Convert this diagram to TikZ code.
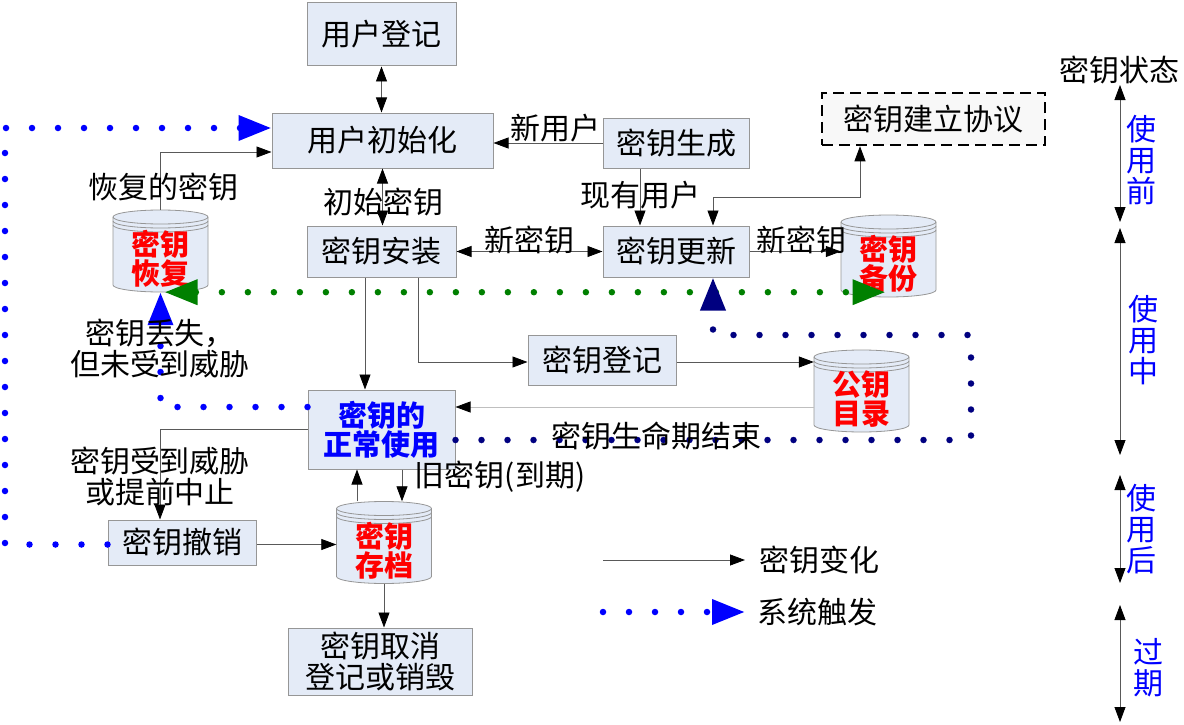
\documentclass[tikz,border=0pt]{standalone}
\usepackage{fontspec}
\setmainfont{Noto Sans CJK SC}
\usetikzlibrary{arrows.meta,calc}

\definecolor{boxfill}{RGB}{228,235,247}
\definecolor{boxline}{RGB}{150,150,150}
\definecolor{protofill}{RGB}{248,248,248}
\definecolor{trigblue}{RGB}{0,0,255}
\definecolor{trignavy}{RGB}{0,0,128}
\definecolor{triggreen}{RGB}{0,128,0}

\tikzset{
  every node/.style={font=\fontsize{30}{31}\selectfont, inner sep=0.75pt},
  box/.style={draw=boxline, fill=boxfill, line width=1pt},
  dbbody/.style={minimum width=95pt, minimum height=82pt},
  dbtext/.style={text=red, font=\fontsize{29}{29}\selectfont\bfseries, align=center},
  conn/.style={draw=black!65, line width=0.8pt, -{Triangle[length=15pt,width=11pt,color=black]}},
  conn2/.style={draw=black!65, line width=0.8pt, {Triangle[length=15pt,width=11pt,color=black]}-{Triangle[length=15pt,width=11pt,color=black]}},
  trig/.style={line width=6.5pt, line cap=round, dash pattern=on 0pt off 26pt, -{Triangle[length=33pt,width=24pt]}},
  trig2/.style={line width=6.5pt, line cap=round, dash pattern=on 0pt off 26pt, {Triangle[length=33pt,width=24pt]}-{Triangle[length=33pt,width=24pt]}},
  stage/.style={text=trigblue, align=center},
}

% cylinder: name, x, y, text
\newcommand{\keydb}[4]{%
  \draw[boxline, fill=boxfill, line width=0.8pt] (#2-47.5,#3-34) -- (#2-47.5,#3+34)
    arc[start angle=180,end angle=0,x radius=47.5pt,y radius=7pt] -- (#2+47.5,#3-34)
    arc[start angle=0,end angle=-180,x radius=47.5pt,y radius=7pt] -- cycle;
  \foreach \dy in {0,4,8}
    \draw[boxline, line width=0.8pt] (#2-47.5,#3-34+\dy) arc[start angle=180,end angle=0,x radius=47.5pt,y radius=7pt];
  \node[dbbody] (#1) at (#2,#3) {};
  \node[dbtext] (#1-t) at (#2,#3+8) {#4};
}

\begin{document}
\begin{tikzpicture}[x=1pt,y=1pt,yscale=-1]
\useasboundingbox (0,0) rectangle (1184,725);

% Boxes
\node[box, minimum width=149pt, minimum height=63pt] (reg) at (381.5,34.5) {用户登记};
\node[box, minimum width=221pt, minimum height=55pt] (init) at (382.5,140.5) {用户初始化};
\node[box, minimum width=146pt, minimum height=50pt] (gen) at (676,143) {密钥生成};
\node[draw=black, dash pattern=on 11pt off 6pt, line width=2.5pt, fill=protofill, minimum width=223pt, minimum height=52pt] (proto) at (933.5,119) {密钥建立协议};
\node[box, minimum width=149pt, minimum height=51pt] (inst) at (381.5,251.5) {密钥安装};
\node[box, minimum width=146pt, minimum height=51pt] (upd) at (676,251.5) {密钥更新};
\node[box, minimum width=148pt, minimum height=50pt] (kreg) at (602,360) {密钥登记};
\node[box, minimum width=147pt, minimum height=79pt, text=trigblue, font=\fontsize{29}{29}\selectfont\bfseries, align=center] (use) at (381.5,429.5) {密钥的\\正常使用};
\node[box, minimum width=148pt, minimum height=45pt] (rev) at (182,542.5) {密钥撤销};
\node[box, minimum width=184pt, minimum height=67pt, align=center] (del) at (380,661.5) {密钥取消\\登记或销毁};

% Cylinders
\keydb{rec}{160.5}{251}{密钥\\恢复}
\keydb{bak}{888.5}{256}{密钥\\备份}
\keydb{dir}{861.5}{391}{公钥\\目录}
\keydb{arch}{384}{542.5}{密钥\\存档}

% Key changes
\draw[conn2] (reg.south) -- (reg.south |- init.north);
\draw[conn] (gen.west) -- (gen.west -| init.east);
\draw[conn] (rec.north) |- ($(init.west)+(0,11.5)$);
\draw[conn2] (init.south) -- (init.south |- inst.north);
\draw[conn2] (inst.east) -- (upd.west);
\draw[conn] ([xshift=-36pt]gen.south) -- ([xshift=-36pt]upd.north);
\draw[conn2] ([xshift=37pt]upd.north) -- ++(0,-28) -| ([xshift=-73.5pt]proto.south);
\draw[conn] (upd.east) -- (upd.east -| bak.west);
\draw[conn] ([xshift=-16.5pt]inst.south) -- ([xshift=-16.5pt]inst.south |- use.north);
\draw[conn] ([xshift=36.5pt]inst.south) |- ($(kreg.west)+(0,2)$);
\draw[conn] ($(kreg.east)+(0,2)$) -- ($(kreg.east -| dir.west)+(0,2)$);
\draw[conn, draw=black!25] ($(dir.west)+(0,16)$) -- ($(dir.west -| use.east)+(0,16)$);
\draw[conn] (use.west) -| ([xshift=-22pt]rev.north);
\draw[conn] ($(rev.east)+(0,2)$) -- ($(rev.east -| arch.west)+(0,2)$);
\draw[conn] ([xshift=-27pt]arch.north) -- ([xshift=-27pt]arch.north |- use.south);
\draw[conn] ([xshift=20.5pt]use.south) -- ([xshift=20.5pt]use.south |- arch.north);
\draw[conn] (arch.south) -- (arch.south |- del.north);

% System triggers
\draw[trig2, triggreen] ([xshift=4pt]rec.south) -- ([xshift=-3pt]rec.south -| bak.south);
\draw[trig, trignavy] ($(use.east)+(0,10.5)$) -| (971,335) -| ([xshift=37pt]upd.south);
\draw[trig, trigblue] ($(use.west)+(0,-22.5)$) -| (rec.south);
\draw[trig, trigblue] ($(rev.west)+(0,2)$) -| (5,128) -- ($(init.west)+(0,-12.5)$);

% Text Node
\node (newuser) at (555,128) {新用户};
\node (recovered) at (163,187) {恢复的密钥};
\node (initkey) at (383,202) {初始密钥};
\node (olduser) at (640,195) {现有用户};
\node (newkey1) at (529,240) {新密钥};
\node (newkey2) at (801,240) {新密钥};
\node[align=center] (lost) at (160,348) {密钥丢失，\\但未受到威胁};
\node (endlife) at (656,436) {密钥生命期结束};
\node[align=center] (threat) at (160,476) {密钥受到威胁\\或提前中止};
\node (expired) at (500,477) {旧密钥(到期)};

% Legend
\coordinate (lgA) at (603,560);
\coordinate (lgB) at (603,612);
\node[anchor=west, inner sep=14pt] (lgchange) at (745,560) {密钥变化};
\node[anchor=west, inner sep=12pt] (lgtrig) at (745,612) {系统触发};
\draw[conn] (lgA) -- (lgchange.west);
\draw[trig, trigblue] (lgB) -- (lgtrig.west);

% Key states
\node (state) at (1119,70) {密钥状态};
\coordinate (s1a) at (1120,85);  \coordinate (s1b) at (1120,222);
\coordinate (s2a) at (1120,228); \coordinate (s2b) at (1120,455);
\coordinate (s3a) at (1120,475); \coordinate (s3b) at (1120,583);
\coordinate (s4a) at (1120,605); \coordinate (s4b) at (1120,722);
\draw[conn2] (s1a) -- (s1b);
\draw[conn2] (s2a) -- (s2b);
\draw[conn2] (s3a) -- (s3b);
\draw[conn2] (s4a) -- (s4b);
\node[stage] (before) at (1141,160) {使\\用\\前};
\node[stage] (during) at (1143,340) {使\\用\\中};
\node[stage] (after) at (1141,529) {使\\用\\后};
\node[stage] (past) at (1148,668) {过\\期};
\end{tikzpicture}
\end{document}
